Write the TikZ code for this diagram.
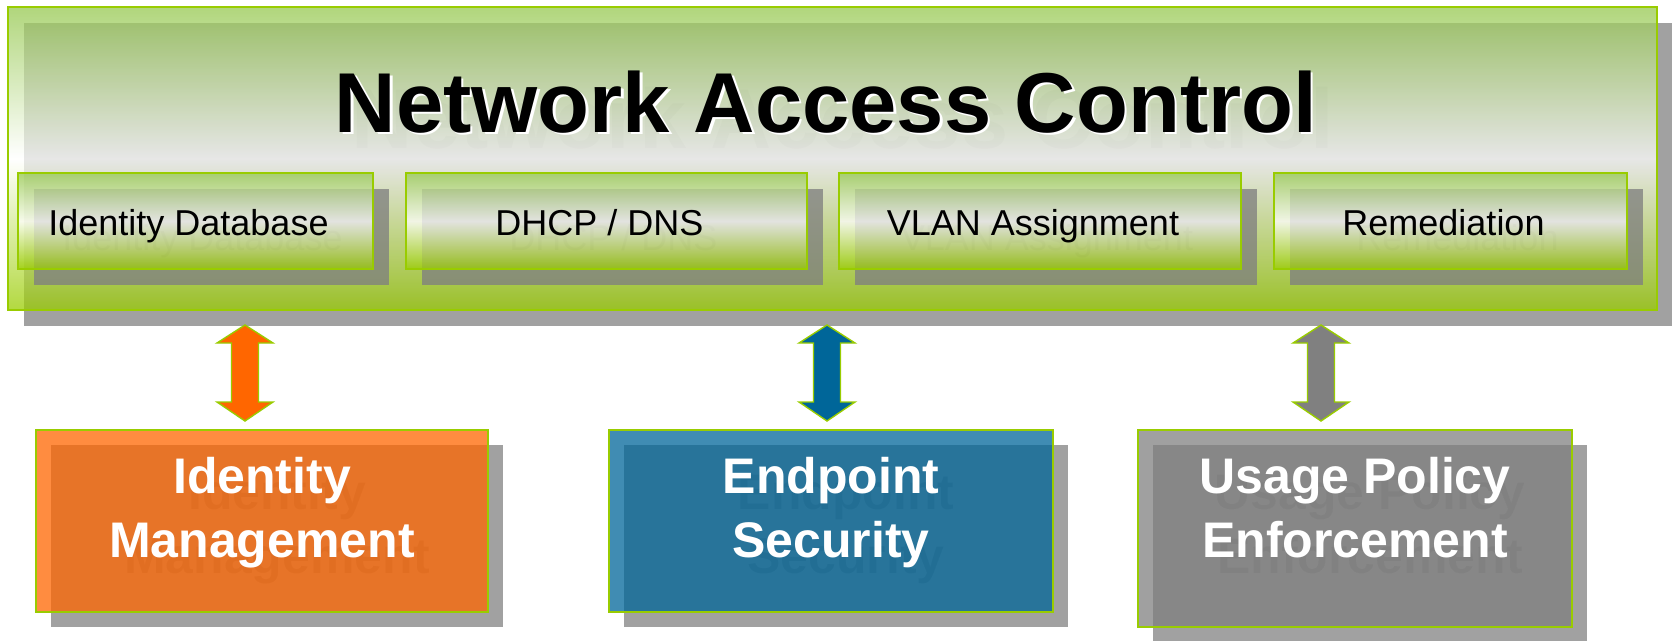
\documentclass[tikz,border=0pt]{standalone}
\usepackage{fontspec}
\setmainfont{Liberation Sans}
\usetikzlibrary{calc}
\definecolor{ngreen}{HTML}{99CC00}
\definecolor{gtop}{RGB}{150,200,80}
\definecolor{norange}{HTML}{FF6600}
\definecolor{nblue}{HTML}{006699}
\definecolor{ngray}{HTML}{808080}
\tikzset{
  shadowrect/.style={fill=black, fill opacity=0.37, draw=none},
  subshadow/.style={fill=ngray, fill opacity=0.78, draw=none},
  glassbox/.style={top color=gtop, bottom color=ngreen, middle color=white,
    fill opacity=0.75, draw=ngreen, draw opacity=1, line width=1.6pt},
  colorbox/.style={fill=#1, fill opacity=0.75, draw=ngreen, draw opacity=1, line width=1.6pt},
  ghosttext/.style={text=black, text opacity=#1},
  ghosttext/.default=0.12,
  titletext/.style={inner sep=0pt, anchor=base, font=\fontsize{85}{100}\selectfont\bfseries},
  subtext/.style={inner sep=0pt, anchor=base, font=\fontsize{36}{43}\selectfont},
  bigtext/.style={inner sep=0pt, anchor=base, align=center, font=\fontsize{50}{64}\selectfont\bfseries},
  blockarrow/.style={draw=ngreen, line width=1.4pt, line join=miter}
}
\newcommand\dblarrow[3]{%
  \draw[blockarrow, fill=#3] (#1) -- ($(#1)+(28,18)$) -- ($(#1)+(13.5,18)$)
    -- ($(#2)+(13.5,-19)$) -- ($(#2)+(28,-19)$) -- (#2) -- ($(#2)+(-28,-19)$)
    -- ($(#2)+(-13.5,-19)$) -- ($(#1)+(-13.5,18)$) -- ($(#1)+(-28,18)$) -- cycle;}
\newcommand\subbox[4]{% name, x1, x2, label
  \fill[subshadow] (#2+16,189) rectangle (#3+16,285);
  \node[subtext, ghosttext] (#1g) at ({(#2+#3)/2-7+14},250.5) {#4};
  \path[glassbox] (#2,173) rectangle (#3,269);
  \node[subtext] (#1) at ({(#2+#3)/2-7},235.5) {#4};}
\begin{document}
\begin{tikzpicture}[x=1pt,y=-1pt]
\useasboundingbox (0,0) rectangle (1672,640);
% main box
\fill[shadowrect] (24,23) rectangle (1673,326);
\node[titletext, ghosttext=0.1] (titleghost) at (843,148) {Network Access Control};
\node[glassbox, inner sep=0pt, minimum width=1649pt, minimum height=303pt] (nac) at (832.5,158.5) {};
\subbox{idb}{18}{373}{Identity Database}
\subbox{dhcp}{406}{807}{DHCP / DNS}
\subbox{vlan}{839}{1241}{VLAN Assignment}
\subbox{rem}{1274}{1627}{Remediation}
\node[titletext, text=white] (titlew) at (828.5,134.5) {Network Access Control};
\node[titletext] (title) at (826,132) {Network Access Control};
% bottom boxes
\fill[shadowrect] (51,445) rectangle (503,627);
\node[bigtext, ghosttext=0.15] (idmg) at (277,573) {Identity\\Management};
\node[colorbox=norange, inner sep=0pt, minimum width=452pt, minimum height=182pt] (idm) at (262,521) {};
\node[bigtext, text=white] (idmt) at (262,557) {Identity\\Management};
\fill[shadowrect] (624,445) rectangle (1068,627);
\node[bigtext, ghosttext=0.15] (epsg) at (846,573) {Endpoint\\Security};
\node[colorbox=nblue, inner sep=0pt, minimum width=444pt, minimum height=182pt] (eps) at (831,521) {};
\node[bigtext, text=white] (epst) at (831,557) {Endpoint\\Security};
\fill[shadowrect] (1153,445) rectangle (1587,642);
\node[bigtext, ghosttext=0.15] (upeg) at (1370,573) {Usage Policy\\Enforcement};
\node[colorbox=ngray, inner sep=0pt, minimum width=434pt, minimum height=197pt] (upe) at (1355,528.5) {};
\node[bigtext, text=white] (upet) at (1355,557) {Usage Policy\\Enforcement};
% arrows
\coordinate (a1t) at (245,325); \coordinate (a1b) at (245,421);
\coordinate (a2t) at (827,325); \coordinate (a2b) at (827,421);
\coordinate (a3t) at (1321,325); \coordinate (a3b) at (1321,421);
\dblarrow{a1t}{a1b}{norange}
\dblarrow{a2t}{a2b}{nblue}
\dblarrow{a3t}{a3b}{ngray}
\end{tikzpicture}
\end{document}
